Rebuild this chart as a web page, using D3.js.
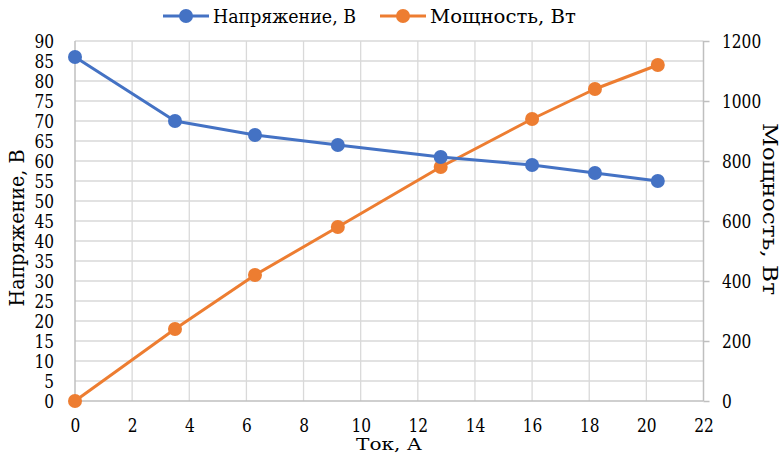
<!DOCTYPE html>
<html><head><meta charset="utf-8">
<script src="https://cdn.jsdelivr.net/npm/d3@7"></script>
<style>body{margin:0;background:#fff}svg{display:block}</style>
</head><body>
<script>
const current = [0, 3.5, 6.3, 9.2, 12.8, 16, 18.2, 20.4];
const voltage = [86, 70, 66.5, 64, 61, 59, 57, 55];
const power = [0, 240, 420, 580, 780, 940, 1040, 1120];
const xTicks = [0, 2, 4, 6, 8, 10, 12, 14, 16, 18, 20, 22];
const yLeftTicks = d3.range(0, 91, 5);
const yRightTicks = [0, 200, 400, 600, 800, 1000, 1200];
const seriesNames = ["Напряжение, В", "Мощность, Вт"];
const colors = ["#4472C4", "#ED7D31"];
const xTitle = "Ток, А";

const FONT = "DejaVu Serif";
const W = 781, H = 454;
const svg = d3.select("body").append("svg").attr("width", W).attr("height", H);
const L = 75, R = 703.5, T = 41, B = 401;
const x = d3.scaleLinear().domain([0, 22]).range([L, R]);
const yL = d3.scaleLinear().domain([0, 90]).range([B, T]);
const yR = d3.scaleLinear().domain([0, 1200]).range([B, T]);
const tickFs = 18;

const g = svg.append("g");
g.selectAll(".hg").data(yLeftTicks.filter(d => d > 0)).enter().append("line")
  .attr("x1", L).attr("x2", R).attr("y1", d => yL(d)).attr("y2", d => yL(d))
  .attr("stroke", "#d9d9d9").attr("stroke-width", 1.3);
g.selectAll(".vg").data(xTicks.filter(d => d > 0 && d < 22)).enter().append("line")
  .attr("x1", d => x(d)).attr("x2", d => x(d)).attr("y1", T).attr("y2", B)
  .attr("stroke", "#d9d9d9").attr("stroke-width", 1.3);

const axisColor = "#bfbfbf";
svg.append("line").attr("x1", L).attr("x2", L).attr("y1", T).attr("y2", B).attr("stroke", axisColor).attr("stroke-width", 1.5);
svg.append("line").attr("x1", R).attr("x2", R).attr("y1", T).attr("y2", B).attr("stroke", axisColor).attr("stroke-width", 1.5);
svg.append("line").attr("x1", L).attr("x2", R).attr("y1", B).attr("y2", B).attr("stroke", axisColor).attr("stroke-width", 1.5);

function styleTicks(sel) {
  sel.attr("font-family", null);
  sel.selectAll("text")
    .style("font-family", FONT).style("font-size", tickFs + "px").attr("fill", "#000")
    .attr("textLength", function () { return this.textContent.length * 9.8; })
    .attr("lengthAdjust", "spacingAndGlyphs");
}

const axL = d3.axisLeft(yL).tickValues(yLeftTicks).tickSize(0).tickPadding(21);
const gl = svg.append("g").attr("transform", `translate(${L},0)`).call(axL);
gl.select(".domain").remove();
styleTicks(gl);
gl.selectAll("text").attr("dy", "0.36em");

const axR = d3.axisRight(yR).tickValues(yRightTicks).tickSize(6).tickPadding(12.5).tickFormat(d3.format("d"));
const gr = svg.append("g").attr("transform", `translate(${R},0)`).call(axR);
gr.select(".domain").remove();
gr.selectAll("line").attr("stroke", axisColor).attr("stroke-width", 1.5);
styleTicks(gr);
gr.selectAll("text").attr("dy", "0.36em");

const axB = d3.axisBottom(x).tickValues(xTicks).tickSize(0).tickPadding(17);
const gb = svg.append("g").attr("transform", `translate(0,${B})`).call(axB);
gb.select(".domain").remove();
styleTicks(gb);
gb.selectAll("text").attr("dy", null).attr("y", 31);

function title(sel, len, fs) {
  sel.style("font-family", FONT).style("font-size", (fs || 20) + "px").attr("fill", "#000")
    .attr("text-anchor", "middle").attr("textLength", len).attr("lengthAdjust", "spacingAndGlyphs");
}
svg.append("text").attr("x", 389).attr("y", 450).text(xTitle).call(title, 66, 16.5);
svg.append("text").attr("transform", `translate(24,228) rotate(-90)`).text(seriesNames[0]).call(title, 157);
svg.append("text").attr("transform", `translate(763,209) rotate(90)`).text(seriesNames[1]).call(title, 172);

const data = [
  current.map((c, i) => [c, voltage[i]]),
  current.map((c, i) => [c, power[i]])
];
const scales = [yL, yR];
[1, 0].forEach(k => {
  const line = d3.line().x(d => x(d[0])).y(d => scales[k](d[1]));
  svg.append("path").datum(data[k]).attr("d", line).attr("fill", "none")
    .attr("stroke", colors[k]).attr("stroke-width", 3).attr("stroke-linejoin", "round");
  svg.selectAll(".m" + k).data(data[k]).enter().append("circle")
    .attr("cx", d => x(d[0])).attr("cy", d => scales[k](d[1])).attr("r", 7)
    .attr("fill", colors[k]);
});

const lg = svg.append("g");
const leg = [{x: 163, tx: 213, len: 143}, {x: 380, tx: 430, len: 146}];
leg.forEach((p, k) => {
  lg.append("line").attr("x1", p.x).attr("x2", p.x + 46).attr("y1", 16).attr("y2", 16)
    .attr("stroke", colors[k]).attr("stroke-width", 3);
  lg.append("circle").attr("cx", p.x + 23).attr("cy", 16).attr("r", 7).attr("fill", colors[k]);
  lg.append("text").attr("x", p.tx).attr("y", 23).text(seriesNames[k])
    .style("font-family", FONT).style("font-size", "19px").attr("fill", "#000")
    .attr("textLength", p.len).attr("lengthAdjust", "spacingAndGlyphs");
});
</script>
</body></html>
